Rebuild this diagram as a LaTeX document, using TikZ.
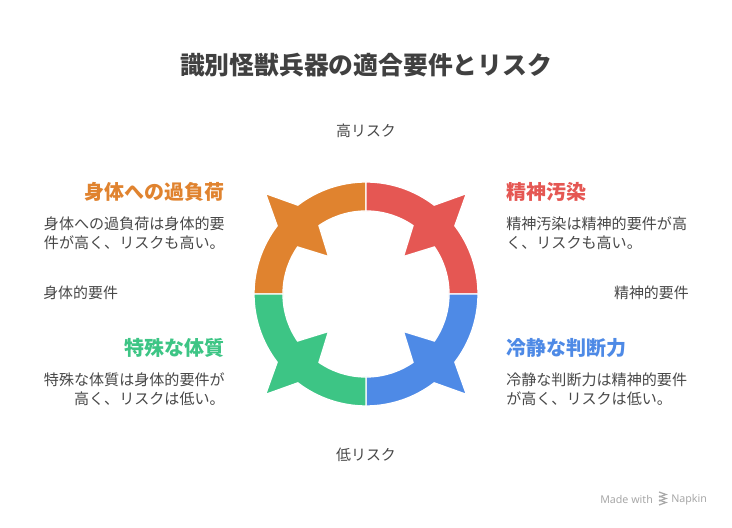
\documentclass[tikz,border=0pt]{standalone}
\usepackage{fontspec}
\usepackage{xcolor}
\usepackage{tikz}
\setmainfont{Noto Sans CJK JP}
\newfontfamily\latinfont{Noto Sans}

\definecolor{overload}{HTML}{E0832F}
\definecolor{pollution}{HTML}{E55753}
\definecolor{judgement}{HTML}{4E8AE6}
\definecolor{constitution}{HTML}{3DC585}
\definecolor{titlegray}{HTML}{404040}
\definecolor{textgray}{HTML}{484848}
\definecolor{footgray}{HTML}{A8A8A8}

\begin{document}
\begin{tikzpicture}[x=0.75pt, y=0.75pt, inner sep=0pt]
        % Fix the canvas to the size of the reference
        \useasboundingbox[fill=white] (0,0) rectangle (732,528);

        % Define the centre of the ring
        \coordinate (origin) at (366,234);

        % Draw the four quadrants, each pinched into a notch at its middle
        \foreach[count=\i] \a/\col in {90/overload, 0/pollution, 270/judgement, 180/constitution}{
            \draw[shift={(origin)}, white, line width=1, fill=\col] (\a:112)
                arc[start angle=\a, end angle=\a+37.5, radius=112]
                -- (\a+45:142) -- (\a+52.5:112)
                arc[start angle=\a+52.5, end angle=\a+90, radius=112]
                -- (\a+90:83)
                arc[start angle=\a+90, end angle=\a+55.5, radius=83]
                -- (\a+45:53) -- (\a+34.5:83)
                arc[start angle=\a+34.5, end angle=\a, radius=83] -- cycle;
        }

        % Title and axis labels
        \node[font=\bfseries\fontsize{18.6}{22}\selectfont, text=titlegray] (title) at (366,463) {識別怪獣兵器の適合要件とリスク};
        \node[font=\fontsize{11.2}{14}\selectfont, text=textgray] (high) at (366,397) {高リスク};
        \node[font=\fontsize{11.2}{14}\selectfont, text=textgray] (low) at (366,73) {低リスク};
        \node[font=\fontsize{11.2}{14}\selectfont, text=textgray, anchor=west] (physical) at (43,235) {身体的要件};
        \node[font=\fontsize{11.2}{14}\selectfont, text=textgray, anchor=east] (mental) at (689,235) {精神的要件};

        % Place the four headings and their descriptions
        \foreach[count=\i] \x/\y/\side/\al/\col/\head/\body in {
            225/336/east/right/overload/身体への過負荷/{身体への過負荷は身体的要\\件が高く、リスクも高い。},
            506/336/west/left/pollution/精神汚染/{精神汚染は精神的要件が高\\く、リスクも高い。},
            506/180/west/left/judgement/冷静な判断力/{冷静な判断力は精神的要件\\が高く、リスクは低い。},
            225/180/east/right/constitution/特殊な体質/{特殊な体質は身体的要件が\\高く、リスクは低い。}}{
            \node[anchor=\side, text=\col, font=\bfseries\fontsize{15}{18}\selectfont] (head\i) at (\x,\y) {\head};
            \node[anchor=\side, align=\al, text=textgray, font=\fontsize{11.3}{14.6}\selectfont] (body\i) at (\x,\y-41) {\body};
        }

        % Footer
        \node[anchor=west, text=footgray, font=\latinfont\fontsize{8}{10}\selectfont] (made) at (600,28) {Made with};
        \node[anchor=west, text=footgray, font=\latinfont\fontsize{8}{10}\selectfont] (napkin) at (671,28) {Napkin};
        \foreach \dy in {-4,0,4}{
            \draw[footgray, line width=0.9] (659,32+\dy) -- (666,29.5+\dy) -- (659,27+\dy);
        }
    \end{tikzpicture}
\end{document}
